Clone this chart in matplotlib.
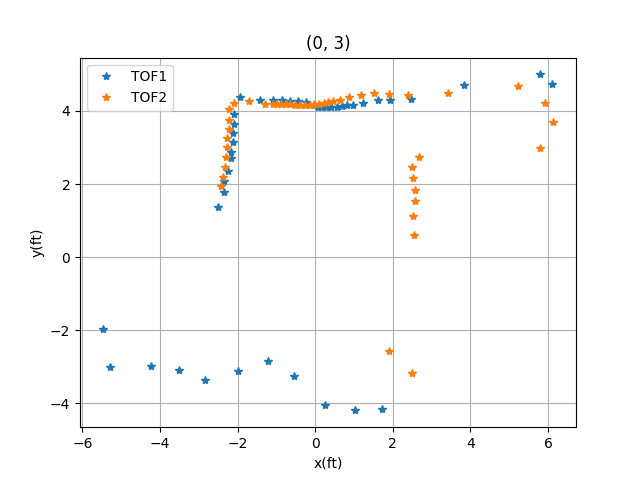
"""Two time-of-flight tracks in the plane, drawn as star markers."""
from matplotlib import pyplot

tof1_x = [-2.51, -2.36, -2.34, -2.25, -2.18, -2.16, -2.13, -2.11, -2.10, -2.08, -1.95,
          -1.43, -1.08, -0.85, -0.65, -0.44, -0.23, -0.02, 0.08, 0.16, 0.29, 0.42,
          0.55, 0.68, 0.82, 0.98, 1.23, 1.62, 1.92, 2.47, 3.84, 5.80, 6.11,
          -5.48, -5.30, -4.24, -3.51, -2.84, -1.99, -1.22, -0.55, 0.25, 1.03, 1.72]
tof1_y = [1.37, 1.78, 2.09, 2.37, 2.71, 2.89, 3.14, 3.40, 3.65, 3.91, 4.38,
          4.31, 4.29, 4.30, 4.28, 4.27, 4.24, 4.15, 4.12, 4.11, 4.10, 4.10,
          4.12, 4.13, 4.15, 4.16, 4.21, 4.31, 4.31, 4.34, 4.70, 5.00, 4.73,
          -1.96, -3.01, -2.98, -3.09, -3.36, -3.11, -2.85, -3.25, -4.05, -4.19, -4.15]

tof2_x = [-2.42, -2.37, -2.32, -2.29, -2.28, -2.27, -2.23, -2.21, -2.21, -2.08,
          -1.71, -1.30, -1.09, -0.98, -0.87, -0.74, -0.64, -0.52, -0.40, -0.27,
          -0.14, -0.02, 0.10, 0.22, 0.33, 0.46, 0.64, 0.87, 1.18, 1.51, 1.91,
          2.40, 3.43, 5.23, 5.93, 6.14, 5.80,
          2.68, 2.50, 2.52, 2.58, 2.58, 2.52, 2.55,
          1.91, 2.49]
tof2_y = [1.96, 2.20, 2.46, 2.74, 3.01, 3.26, 3.51, 3.76, 4.06, 4.22,
          4.26, 4.19, 4.19, 4.20, 4.20, 4.19, 4.18, 4.17, 4.17, 4.17,
          4.17, 4.18, 4.20, 4.22, 4.24, 4.26, 4.31, 4.37, 4.43, 4.48, 4.47,
          4.45, 4.49, 4.67, 4.21, 3.69, 3.00,
          2.73, 2.48, 2.16, 1.85, 1.55, 1.14, 0.62,
          -2.56, -3.18]

fig = pyplot.figure(figsize=(6.4, 4.8), dpi=100)
ax = fig.add_subplot(1, 1, 1)
ax.plot(tof1_x, tof1_y, '*', label='TOF1')
ax.plot(tof2_x, tof2_y, '*', label='TOF2')
ax.set_title('(0, 3)')
ax.set_xlabel('x(ft)')
ax.set_ylabel('y(ft)')
ax.grid(True)
ax.legend(loc='upper left')
fig.savefig('out.png')
